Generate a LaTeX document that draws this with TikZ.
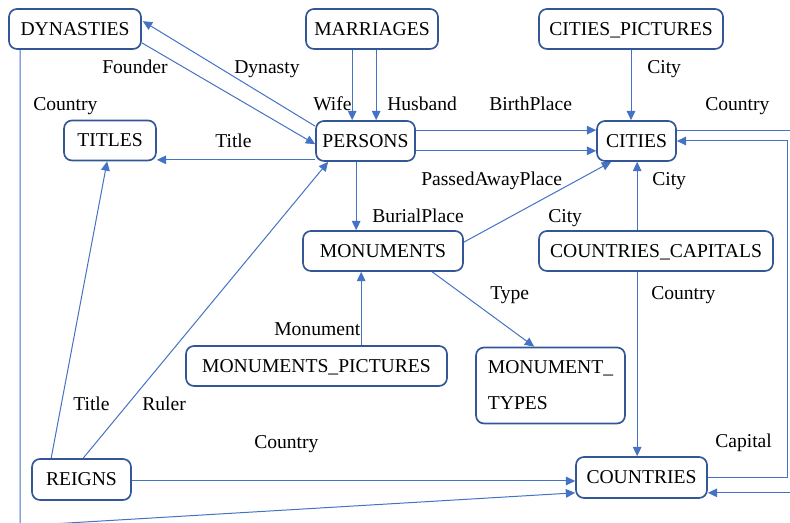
\documentclass[tikz,border=0pt]{standalone}
\usepackage{fontspec}
\setmainfont{Liberation Serif}
\usetikzlibrary{arrows.meta,calc}
\definecolor{boxline}{RGB}{50,86,150}
\definecolor{conn}{RGB}{68,114,196}
\begin{document}
\begin{tikzpicture}[x=0.75pt,y=-0.75pt,
  every node/.style={font=\fontsize{14.7pt}{17pt}\selectfont, text=black},
  tbl/.style={draw=boxline, line width=1.25pt, rounded corners=6pt, fill=white,
    minimum height=30pt, inner sep=0pt, align=center},
  one/.style={text height=9.7pt, text depth=0pt},
  lbl/.style={anchor=base west, inner sep=0pt},
  fk/.style={draw=conn, line width=0.75pt, -{Triangle[length=7pt,width=6.5pt]}},
  ln/.style={draw=conn, line width=0.75pt}]
\useasboundingbox (0,0) rectangle (790,523);
% tables
\node[tbl, one, minimum width=99pt] (DYN) at (75,29) {DYNASTIES};
\node[tbl, one, minimum width=99pt] (MAR) at (372,29) {MARRIAGES};
\node[tbl, one, minimum width=138pt] (CPI) at (631,29) {CITIES\_PICTURES};
\node[tbl, one, minimum width=69pt] (TIT) at (110,140.5) {TITLES};
\node[tbl, one, minimum width=74.25pt] (PER) at (365.5,141) {PERSONS};
\node[tbl, one, minimum width=59.25pt] (CIT) at (636.5,141) {CITIES};
\node[tbl, one, minimum width=120pt] (MON) at (383,251) {MONUMENTS};
\node[tbl, one, minimum width=175.5pt] (CCA) at (656,251) {COUNTRIES\_CAPITALS};
\node[tbl, one, minimum width=195.75pt] (MPI) at (316.5,366) {MONUMENTS\_PICTURES};
\node[tbl, minimum width=111.75pt, minimum height=57pt, align=left,
  font=\fontsize{14.7pt}{27pt}\selectfont] (MTY) at (550.5,385.5) {MONUMENT\_\\TYPES};
\node[tbl, one, minimum width=74.25pt, minimum height=30.75pt] (REI) at (81.5,479.5) {REIGNS};
\node[tbl, one, minimum width=98.25pt, minimum height=30.75pt] (COU) at (641.5,477.5) {COUNTRIES};
% helper coordinates
\coordinate (qC) at ($(COU.south east)+(0,-6)$);
\coordinate (qW) at ($(COU.south west)+(0,-6)$);
% connectors
\draw[fk] ($(DYN.south west)+(12,0)$) -- ++(0,476) -- (qW);
\draw[fk] ($(PER.north west)+(0,6)$) -- ($(DYN.north east)+(1,13)$);
\draw[fk] ($(DYN.south east)+(0,-7)$) -- ($(PER.north west)+(0,24)$);
\draw[fk] ($(MAR.south west)+(47,0)$) coordinate (w1) -- (w1 |- PER.north);
\draw[fk] ($(MAR.south west)+(71,0)$) coordinate (h1) -- (h1 |- PER.north);
\draw[fk] (CPI.south) -- (CPI.south |- CIT.north);
\draw[fk] ($(PER.north east)+(0,10)$) coordinate (b1) -- (b1 -| CIT.west);
\draw[fk] ($(PER.south east)+(0,-11)$) coordinate (p1) -- (p1 -| CIT.west);
\draw[fk] ($(CIT.north east)+(0,10)$) -- ++(120,0) coordinate (c2) -- (c2 |- qC) -- (qC);
\draw[fk] (COU.east) -- ++(80,0) coordinate (c3) -- (c3 |- CIT.east) -- (CIT.east);
\draw[fk] ($(PER.south west)+(0,-2)$) coordinate (t1) -- (t1 -| TIT.east);
\draw[fk] ($(PER.south west)+(41,0)$) coordinate (bp) -- (bp |- MON.north);
\draw[fk] ($(MON.north east)+(0,12)$) -- ($(CIT.south west)+(15,0)$);
\draw[fk] ($(CCA.north west)+(99,0)$) coordinate (cc1) -- (cc1 |- CIT.south);
\draw[fk] ($(CCA.south west)+(99,0)$) coordinate (cc2) -- (cc2 |- COU.north);
\draw[fk] ($(MON.south west)+(130,0)$) -- ($(MTY.north west)+(59,0)$);
\draw[fk] ($(MPI.north west)+(176,0)$) coordinate (mp) -- (mp |- MON.south);
\draw[fk] ($(REI.north west)+(20,0)$) -- ($(TIT.south west)+(44,0)$);
\draw[fk] ($(REI.north west)+(52,0)$) -- ($(PER.south west)+(13,0)$);
\draw[fk] ($(REI.east)+(0,1.5)$) coordinate (r1) -- (r1 -| COU.west);
% labels
\node[lbl] (l1) at (102,74) {Founder};
\node[lbl] (l2) at (234,74) {Dynasty};
\node[lbl] (l3) at (33,111) {Country};
\node[lbl] (l4) at (215,148) {Title};
\node[lbl] (l5) at (313,111) {Wife};
\node[lbl] (l6) at (387,111) {Husband};
\node[lbl] (l7) at (489,111) {BirthPlace};
\node[lbl] (l8) at (647,74) {City};
\node[lbl] (l9) at (705,111) {Country};
\node[lbl] (l10) at (421,186) {PassedAwayPlace};
\node[lbl] (l11) at (652,186) {City};
\node[lbl] (l12) at (372,223) {BurialPlace};
\node[lbl] (l13) at (548,223) {City};
\node[lbl] (l14) at (490,300) {Type};
\node[lbl] (l15) at (651,300) {Country};
\node[lbl] (l16) at (274,336) {Monument};
\node[lbl] (l17) at (73,411) {Title};
\node[lbl] (l18) at (142,411) {Ruler};
\node[lbl] (l19) at (254,449) {Country};
\node[lbl] (l20) at (715,448) {Capital};
\end{tikzpicture}
\end{document}
